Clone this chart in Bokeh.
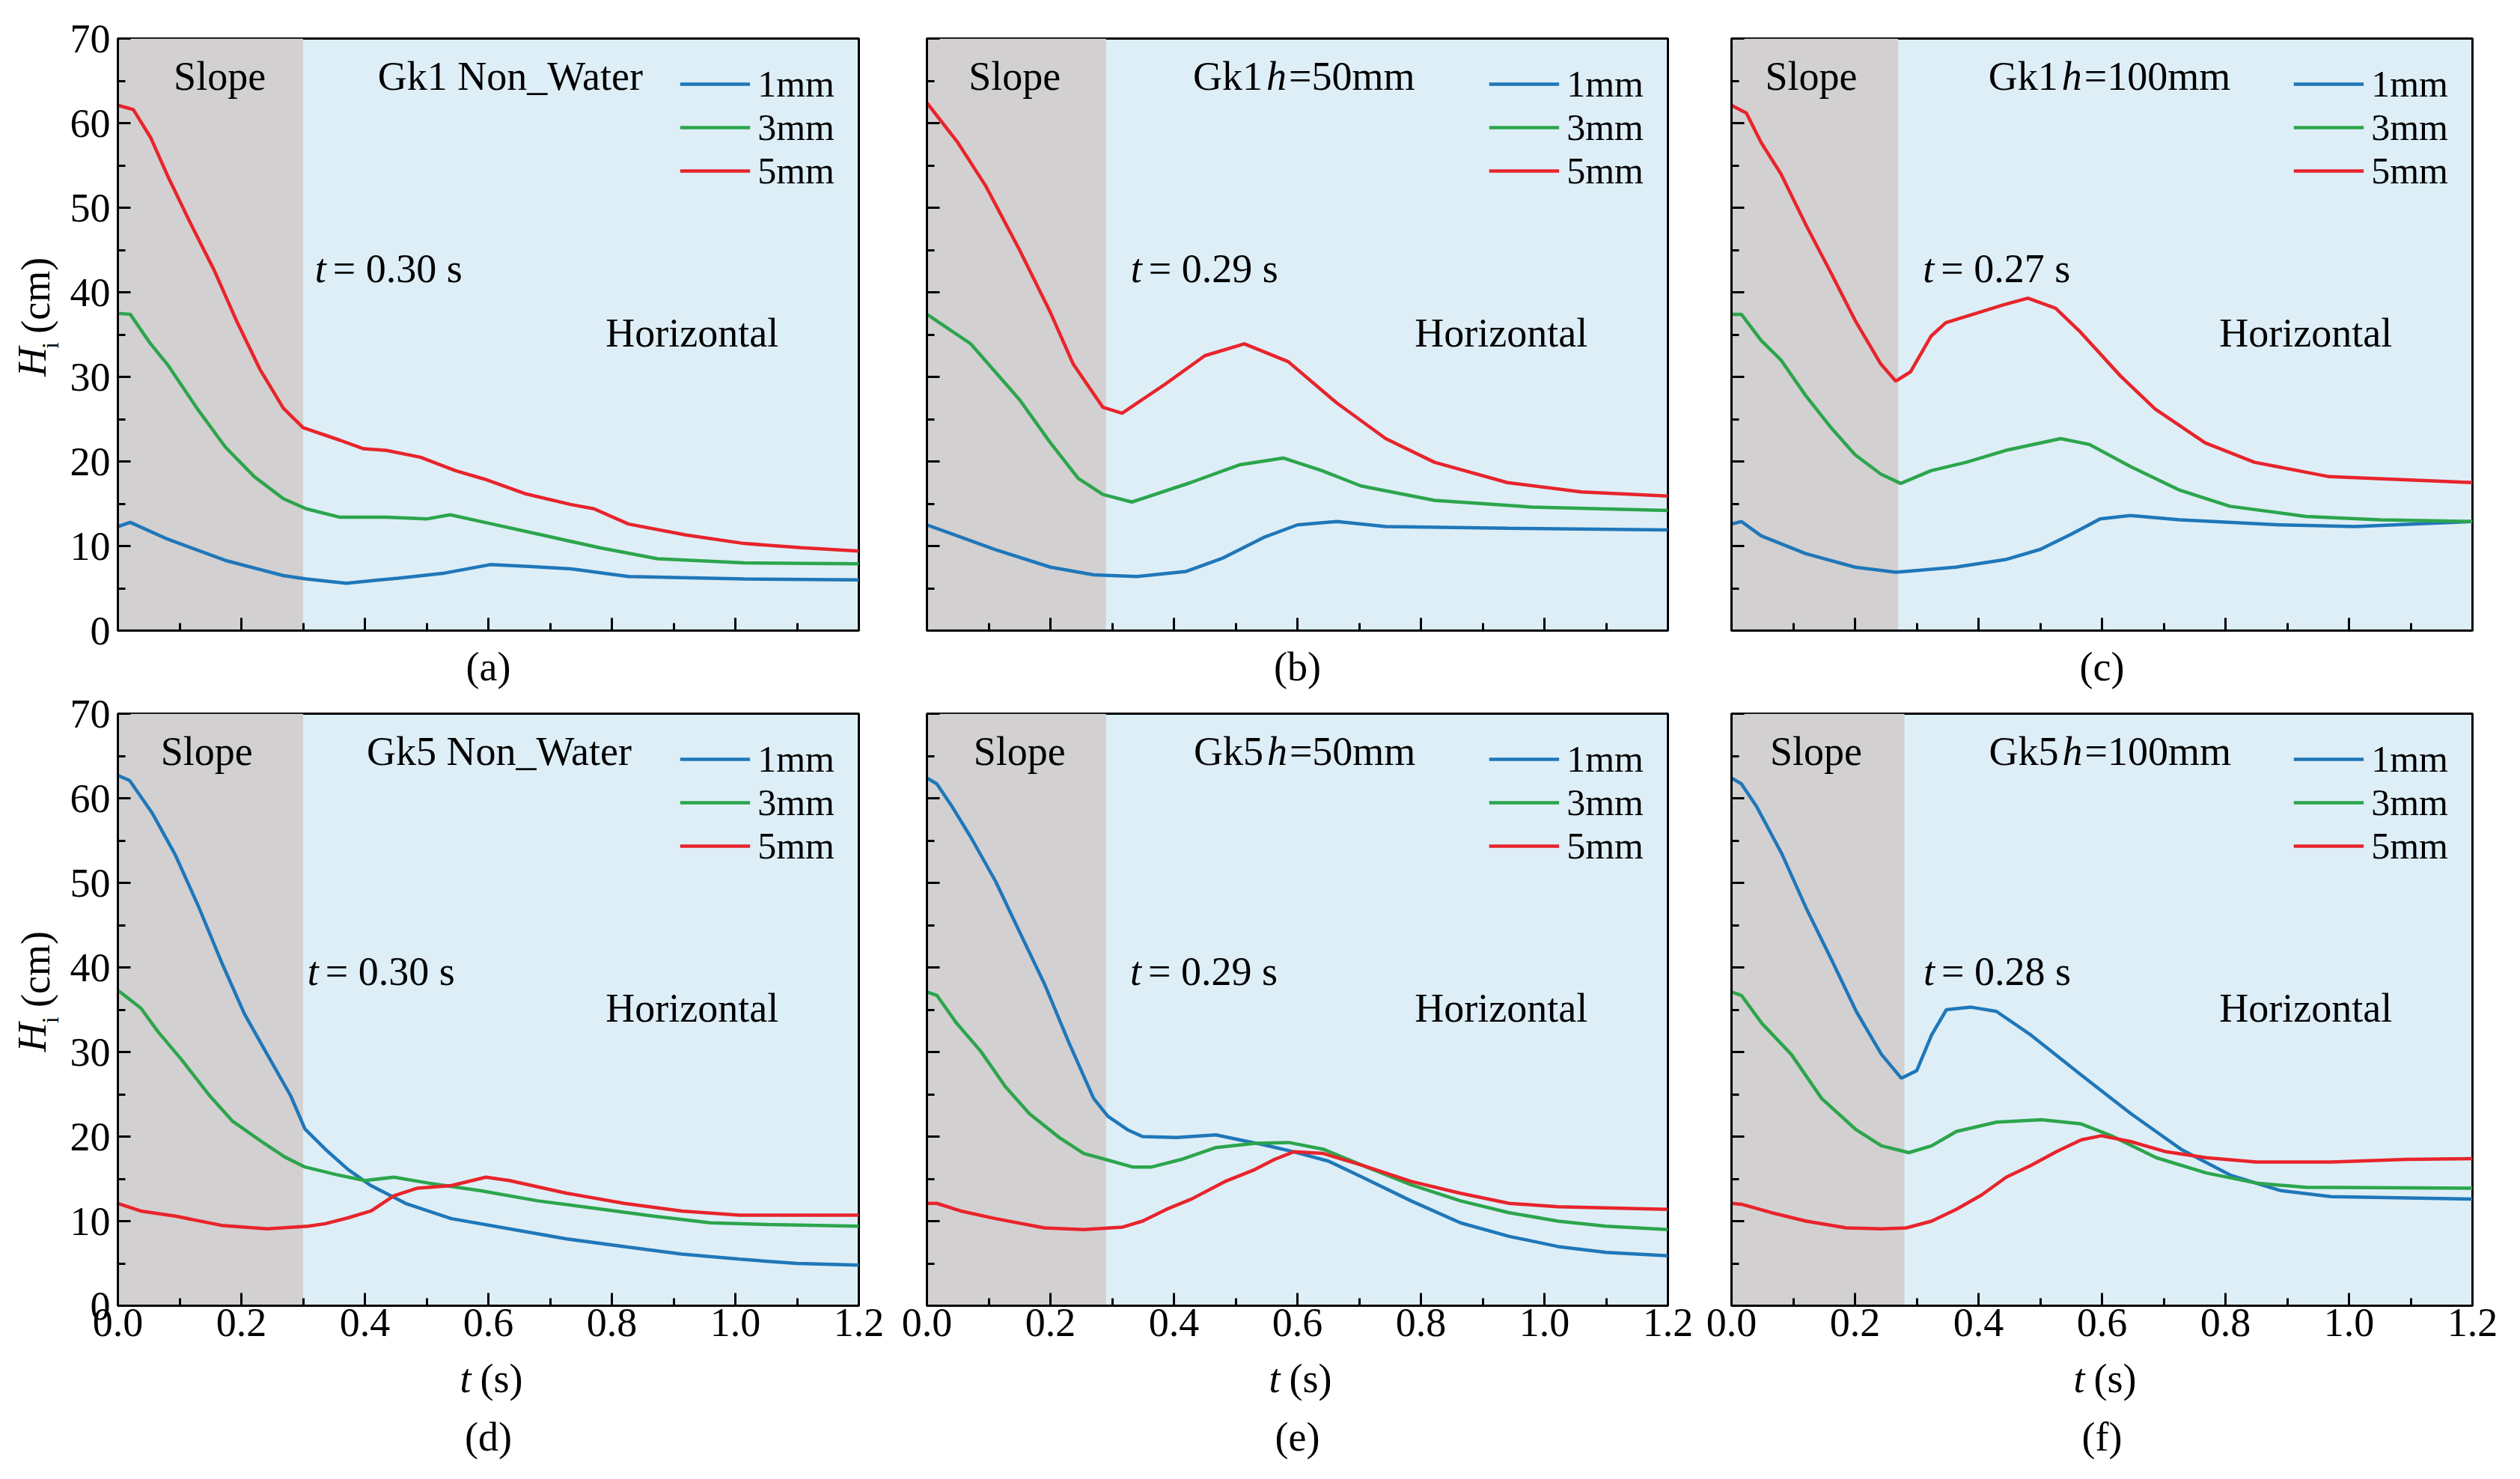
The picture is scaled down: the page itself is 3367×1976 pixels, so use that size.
import math

from bokeh.embed import file_html
from bokeh.layouts import column, row
from bokeh.models import BoxAnnotation, FixedTicker, Label, PrintfTickFormatter, Range1d, Spacer
from bokeh.plotting import figure
from bokeh.resources import INLINE

# ---------------- data ----------------
x_ticks = [0.0, 0.2, 0.4, 0.6, 0.8, 1.0, 1.2]
x_minor = [0.1, 0.3, 0.5, 0.7, 0.9, 1.1]
y_ticks = [0, 10, 20, 30, 40, 50, 60, 70]
y_minor = [5, 15, 25, 35, 45, 55, 65]

series_names = ["1mm", "3mm", "5mm"]
panel_tags = ["(a)", "(b)", "(c)", "(d)", "(e)", "(f)"]
panel_case = ["Gk1 Non_Water", "Gk1", "Gk1", "Gk5 Non_Water", "Gk5", "Gk5"]
panel_depth = [None, "=50mm", "=100mm", None, "=50mm", "=100mm"]
slope_end = [0.30, 0.29, 0.27, 0.30, 0.29, 0.28]
slope_text = ["t = 0.30 s", "t = 0.29 s", "t = 0.27 s", "t = 0.30 s", "t = 0.29 s", "t = 0.28 s"]

# (a) Gk1 Non_Water
a_t1 = [0, 0.02, 0.081, 0.174, 0.268, 0.305, 0.37, 0.454, 0.529, 0.603, 0.659, 0.734, 0.827, 1.014, 1.2]
a_h1 = [12.3, 12.8, 10.8, 8.3, 6.5, 6.1, 5.6, 6.2, 6.8, 7.8, 7.6, 7.3, 6.4, 6.1, 6.0]
a_t3 = [0, 0.02, 0.053, 0.081, 0.128, 0.174, 0.221, 0.268, 0.305, 0.36, 0.435, 0.5, 0.538, 0.594, 0.687, 0.78, 0.874, 1.014, 1.2]
a_h3 = [37.5, 37.4, 33.9, 31.4, 26.3, 21.7, 18.2, 15.6, 14.4, 13.4, 13.4, 13.2, 13.7, 12.8, 11.3, 9.8, 8.5, 8.0, 7.9]
a_t5 = [0, 0.025, 0.053, 0.081, 0.118, 0.156, 0.193, 0.23, 0.268, 0.3, 0.36, 0.398, 0.435, 0.49, 0.547, 0.594, 0.659, 0.734, 0.771, 0.827, 0.92, 1.014, 1.107, 1.2]
a_h5 = [62.1, 61.6, 58.3, 53.7, 48.1, 42.6, 36.5, 30.9, 26.3, 24.0, 22.5, 21.5, 21.3, 20.5, 18.9, 17.9, 16.2, 14.9, 14.4, 12.6, 11.3, 10.3, 9.8, 9.4]

# (b) Gk1 h=50mm
b_t1 = [0, 0.11, 0.2, 0.27, 0.34, 0.42, 0.48, 0.545, 0.6, 0.664, 0.743, 0.94, 1.2]
b_h1 = [12.5, 9.6, 7.5, 6.6, 6.4, 7.0, 8.6, 11.0, 12.5, 12.9, 12.3, 12.1, 11.9]
b_t3 = [0, 0.071, 0.15, 0.2, 0.245, 0.285, 0.332, 0.427, 0.506, 0.577, 0.64, 0.703, 0.822, 0.98, 1.2]
b_h3 = [37.4, 33.9, 27.3, 22.2, 18.0, 16.1, 15.2, 17.5, 19.6, 20.4, 18.9, 17.1, 15.4, 14.6, 14.2]
b_t5 = [0, 0.05, 0.095, 0.15, 0.2, 0.237, 0.285, 0.316, 0.387, 0.45, 0.514, 0.585, 0.664, 0.743, 0.822, 0.94, 1.06, 1.2]
b_h5 = [62.4, 57.7, 52.6, 45.0, 37.6, 31.5, 26.4, 25.7, 29.2, 32.5, 33.9, 31.8, 26.9, 22.7, 19.9, 17.5, 16.4, 15.9]

# (c) Gk1 h=100mm
c_t1 = [0, 0.016, 0.048, 0.12, 0.2, 0.266, 0.363, 0.444, 0.5, 0.55, 0.597, 0.646, 0.726, 0.888, 1.01, 1.2]
c_h1 = [12.6, 12.9, 11.2, 9.1, 7.5, 6.9, 7.5, 8.4, 9.6, 11.4, 13.2, 13.6, 13.1, 12.5, 12.3, 12.9]
c_t3 = [0, 0.016, 0.048, 0.08, 0.12, 0.16, 0.2, 0.242, 0.274, 0.323, 0.38, 0.444, 0.533, 0.58, 0.646, 0.726, 0.807, 0.93, 1.05, 1.2]
c_h3 = [37.4, 37.4, 34.3, 32.0, 27.8, 24.1, 20.8, 18.5, 17.4, 18.9, 19.9, 21.3, 22.7, 22.0, 19.4, 16.6, 14.7, 13.5, 13.1, 12.9]
c_t5 = [0, 0.024, 0.048, 0.08, 0.121, 0.161, 0.2, 0.242, 0.266, 0.29, 0.323, 0.347, 0.4, 0.44, 0.48, 0.525, 0.565, 0.63, 0.686, 0.767, 0.847, 0.968, 1.2]
c_h5 = [62.1, 61.2, 57.7, 54.0, 47.9, 42.3, 36.7, 31.5, 29.5, 30.6, 34.8, 36.4, 37.6, 38.5, 39.3, 38.1, 35.3, 30.1, 26.2, 22.2, 19.9, 18.2, 17.5]

# (d) Gk5 Non_Water
d_t1 = [0, 0.019, 0.056, 0.093, 0.13, 0.168, 0.205, 0.242, 0.28, 0.303, 0.336, 0.373, 0.41, 0.466, 0.54, 0.634, 0.727, 0.82, 0.913, 1.007, 1.1, 1.2]
d_h1 = [62.7, 62.1, 58.2, 53.3, 47.3, 40.6, 34.5, 29.7, 24.8, 20.9, 18.5, 16.1, 14.2, 12.1, 10.3, 9.1, 7.9, 7.0, 6.1, 5.5, 5.0, 4.8]
d_t3 = [0, 0.037, 0.065, 0.103, 0.149, 0.186, 0.233, 0.27, 0.303, 0.354, 0.4, 0.447, 0.503, 0.587, 0.68, 0.774, 0.867, 0.96, 1.053, 1.2]
d_h3 = [37.3, 35.2, 32.4, 29.1, 24.8, 21.8, 19.4, 17.6, 16.4, 15.5, 14.8, 15.2, 14.5, 13.6, 12.4, 11.5, 10.6, 9.8, 9.6, 9.4]
d_t5 = [0, 0.037, 0.093, 0.168, 0.242, 0.308, 0.336, 0.373, 0.41, 0.447, 0.485, 0.54, 0.596, 0.634, 0.727, 0.82, 0.913, 1.007, 1.2]
d_h5 = [12.1, 11.2, 10.6, 9.5, 9.1, 9.4, 9.7, 10.4, 11.2, 13.0, 13.9, 14.2, 15.2, 14.8, 13.3, 12.1, 11.2, 10.7, 10.7]

# (e) Gk5 h=50mm
e_t1 = [0, 0.016, 0.04, 0.071, 0.111, 0.15, 0.19, 0.23, 0.27, 0.293, 0.325, 0.349, 0.404, 0.468, 0.507, 0.547, 0.594, 0.65, 0.705, 0.784, 0.864, 0.943, 1.022, 1.1, 1.2]
e_h1 = [62.4, 61.7, 59.1, 55.4, 50.2, 44.2, 38.1, 31.1, 24.5, 22.4, 20.8, 20.0, 19.9, 20.2, 19.6, 19.0, 18.2, 17.1, 15.2, 12.4, 9.8, 8.2, 7.0, 6.3, 5.9]
e_t3 = [0, 0.016, 0.048, 0.087, 0.127, 0.166, 0.214, 0.254, 0.289, 0.333, 0.364, 0.412, 0.468, 0.531, 0.586, 0.642, 0.705, 0.784, 0.864, 0.943, 1.022, 1.1, 1.2]
e_h3 = [37.1, 36.7, 33.4, 30.1, 25.9, 22.7, 19.9, 18.0, 17.3, 16.4, 16.4, 17.3, 18.7, 19.2, 19.3, 18.5, 16.6, 14.3, 12.4, 11.0, 10.0, 9.4, 9.0]
e_t5 = [0, 0.016, 0.055, 0.111, 0.19, 0.254, 0.317, 0.349, 0.388, 0.428, 0.483, 0.531, 0.563, 0.594, 0.642, 0.705, 0.784, 0.864, 0.943, 1.022, 1.2]
e_h5 = [12.1, 12.1, 11.2, 10.3, 9.2, 9.0, 9.3, 10.0, 11.4, 12.6, 14.7, 16.1, 17.3, 18.2, 18.0, 16.6, 14.7, 13.3, 12.1, 11.7, 11.4]

# (f) Gk5 h=100mm
f_t1 = [0, 0.016, 0.04, 0.081, 0.121, 0.162, 0.202, 0.243, 0.275, 0.3, 0.324, 0.348, 0.388, 0.429, 0.485, 0.566, 0.647, 0.728, 0.809, 0.89, 0.971, 1.2]
f_h1 = [62.4, 61.7, 59.1, 53.5, 47.0, 40.9, 34.8, 29.7, 26.9, 27.8, 32.0, 35.0, 35.3, 34.8, 32.0, 27.3, 22.7, 18.5, 15.4, 13.6, 12.9, 12.6]
f_t3 = [0, 0.016, 0.049, 0.097, 0.146, 0.202, 0.243, 0.287, 0.324, 0.364, 0.429, 0.502, 0.566, 0.615, 0.688, 0.769, 0.85, 0.93, 1.2]
f_h3 = [37.1, 36.7, 33.4, 29.7, 24.5, 20.8, 18.9, 18.1, 18.9, 20.6, 21.7, 22.0, 21.5, 20.1, 17.5, 15.7, 14.5, 14.0, 13.9]
f_t5 = [0, 0.016, 0.065, 0.121, 0.186, 0.243, 0.283, 0.324, 0.364, 0.405, 0.445, 0.485, 0.526, 0.566, 0.599, 0.647, 0.704, 0.769, 0.85, 0.971, 1.092, 1.2]
f_h5 = [12.1, 12.0, 11.0, 10.0, 9.2, 9.1, 9.2, 10.0, 11.4, 13.1, 15.2, 16.6, 18.2, 19.6, 20.1, 19.4, 18.2, 17.5, 17.0, 17.0, 17.3, 17.4]

panel_series = [
    [(a_t1, a_h1), (a_t3, a_h3), (a_t5, a_h5)],
    [(b_t1, b_h1), (b_t3, b_h3), (b_t5, b_h5)],
    [(c_t1, c_h1), (c_t3, c_h3), (c_t5, c_h5)],
    [(d_t1, d_h1), (d_t3, d_h3), (d_t5, d_h5)],
    [(e_t1, e_h1), (e_t3, e_h3), (e_t5, e_h5)],
    [(f_t1, f_h1), (f_t3, f_h3), (f_t5, f_h5)],
]

# ---------------- style / geometry ----------------
FONT = "Liberation Serif"
FS = "54px"
COLORS = ["#1f77b9", "#2ca54c", "#e8242b"]
SLOPE_BG = "#d3d0d1"
FLAT_BG = "#ddeef7"

FRAME_W, FRAME_H = 990, 791
X_MAX, Y_MAX = 1.2, 70
PX_X = FRAME_W / X_MAX
PX_Y = FRAME_H / Y_MAX

LEFT_STRIP = 85
col_borders = [(72, 45), (46, 42), (43, 48)]      # (left, right) per column
row_borders = [(51, 81), (30, 64)]                # (top, bottom) per row
BOTTOM_STRIP = 152                                # "t (s)" and panel tag under row 2

# text placement inside each panel (data units)
slope_word_x = [0.165, 0.142, 0.129, 0.144, 0.15, 0.137]
case_x = [0.421, 0.431, 0.416, 0.403, 0.432, 0.417]
time_x = [0.319, 0.33, 0.31, 0.307, 0.329, 0.311]
time_y = [42.8, 42.8, 42.8, 39.5, 39.5, 39.5]


def txt(p, x, y, s, size=FS, style="normal", align="left", angle=0.0, dx=0):
    p.add_layout(Label(x=x, y=y, text=s, x_offset=dx, text_font=FONT, text_font_size=size,
                       text_font_style=style, text_align=align, text_baseline="middle",
                       angle=angle, text_color="black"))


def strip(width, height, xr, yr):
    s = figure(width=width, height=height, x_range=Range1d(*xr), y_range=Range1d(*yr),
               x_axis_type=None, y_axis_type=None, output_backend="svg",
               toolbar_location=None, min_border=0)
    s.outline_line_color = None
    s.background_fill_color = "white"
    s.border_fill_color = "white"
    return s


def make_panel(k):
    r, c = divmod(k, 3)
    left, right = col_borders[c]
    top, bottom = row_borders[r]
    p = figure(width=left + FRAME_W + right, height=top + FRAME_H + bottom,
               x_range=Range1d(0, X_MAX), y_range=Range1d(0, Y_MAX),
               output_backend="svg", toolbar_location=None,
               min_border_left=left, min_border_right=right,
               min_border_top=top, min_border_bottom=bottom)
    p.grid.visible = False
    p.background_fill_color = FLAT_BG
    p.border_fill_color = "white"
    p.outline_line_color = "black"
    p.outline_line_width = 3
    p.outline_line_alpha = 1.0

    p.add_layout(BoxAnnotation(right=slope_end[k], fill_color=SLOPE_BG, fill_alpha=1.0,
                               line_color=None, level="underlay"))

    for (t, h), name, col in zip(panel_series[k], series_names, COLORS):
        p.line(t, h, line_color=col, line_width=4.5, legend_label=name)

    # axes
    p.xaxis.ticker = FixedTicker(ticks=x_ticks, minor_ticks=x_minor)
    p.yaxis.ticker = FixedTicker(ticks=y_ticks, minor_ticks=y_minor)
    p.xaxis.formatter = PrintfTickFormatter(format="%.1f")
    p.yaxis.formatter = PrintfTickFormatter(format="%d")
    for ax in (p.xaxis[0], p.yaxis[0]):
        ax.axis_line_width = 3
        ax.axis_line_color = "black"
        ax.major_tick_line_width = 3
        ax.minor_tick_line_width = 3
        ax.major_tick_line_color = "black"
        ax.minor_tick_line_color = "black"
        ax.major_tick_in = 17
        ax.major_tick_out = 0
        ax.minor_tick_in = 10
        ax.minor_tick_out = 0
        ax.major_label_text_font = FONT
        ax.major_label_text_font_size = FS
        ax.major_label_text_color = "black"
    p.xaxis.major_label_standoff = 4
    p.yaxis.major_label_standoff = 10
    if r == 0:
        # top row: tick marks only, panel tag as the axis label
        p.xaxis.major_label_text_color = None
        p.xaxis.major_label_text_font_size = "1px"
        p.xaxis.major_label_standoff = 0
        p.xaxis.axis_label = panel_tags[k]
        p.xaxis.axis_label_text_font = FONT
        p.xaxis.axis_label_text_font_size = FS
        p.xaxis.axis_label_text_font_style = "normal"
        p.xaxis.axis_label_text_color = "black"
        p.xaxis.axis_label_standoff = 18
    if c != 0:
        p.yaxis.major_label_text_color = None
        p.yaxis.major_label_text_font_size = "1px"
        p.yaxis.major_label_standoff = 0

    # legend
    lg = p.legend[0]
    lg.location = "top_right"
    lg.margin = 32
    lg.padding = 0
    lg.spacing = 0
    lg.glyph_width = 94
    lg.glyph_height = 50
    lg.label_height = 50
    lg.label_standoff = 10
    lg.label_text_font = FONT
    lg.label_text_font_size = "50px"
    lg.label_text_color = "black"
    lg.background_fill_alpha = 0
    lg.border_line_alpha = 0

    # in-panel texts
    txt(p, slope_word_x[k], 65.5, "Slope", align="center")
    txt(p, case_x[k], 65.5, panel_case[k])
    if panel_depth[k] is not None:
        txt(p, case_x[k], 65.5, "h", style="italic", dx=98)
        txt(p, case_x[k], 65.5, panel_depth[k], dx=128)
    txt(p, time_x[k], time_y[k], "t", style="italic")
    txt(p, time_x[k], time_y[k], slope_text[k][2:], dx=24)
    txt(p, 0.79, 35.2, "Horizontal")
    return p


def y_label_strip(r):
    top, bottom = row_borders[r]
    s = strip(LEFT_STRIP, top + FRAME_H + bottom, (0, LEFT_STRIP),
              (-bottom / PX_Y, Y_MAX + top / PX_Y))
    txt(s, 42, 27.9, "H", style="italic", angle=math.pi / 2)
    txt(s, 66, 31.7, "i", size="32px", angle=math.pi / 2)
    txt(s, 47, 33.8, "(cm)", angle=math.pi / 2)
    return s


def under_strip(k):
    c = k % 3
    left, right = col_borders[c]
    h = BOTTOM_STRIP
    s = strip(left + FRAME_W + right, h, (-left / PX_X, X_MAX + right / PX_X), (0, h))
    mid = X_MAX / 2
    txt(s, mid, h - 33, "t", style="italic", dx=-38)
    txt(s, mid, h - 33, "(s)", dx=-11)
    txt(s, mid, h - 111, panel_tags[k], align="center")
    return s


figs = [make_panel(k) for k in range(6)]
unders = [under_strip(k) for k in range(3, 6)]

layout = column(
    row(y_label_strip(0), *figs[:3]),
    row(y_label_strip(1), *figs[3:]),
    row(Spacer(width=LEFT_STRIP, height=BOTTOM_STRIP), *unders),
)

open("out.html", "w").write(file_html(layout, INLINE))
